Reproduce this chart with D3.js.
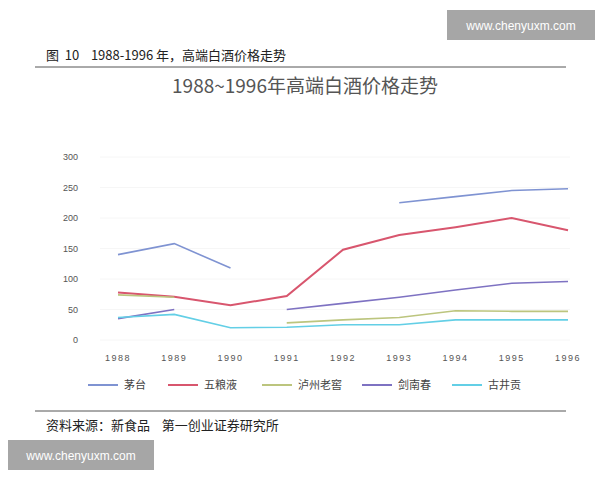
<!doctype html>
<html>
<head>
<meta charset="utf-8">
<style>
  body { margin: 0; background: #fff; }
  text { white-space: pre; }
</style>
</head>
<body>
<div id="here"></div>
<script src="https://d3js.org/d3.v7.min.js"></script>
<script>
var years = ["1988", "1989", "1990", "1991", "1992", "1993", "1994", "1995", "1996"];
var names = ["茅台", "五粮液", "泸州老窖", "剑南春", "古井贡"];
var maotai = [140, 158, 118, null, null, 225, 235, 245, 248];
var wuliangye = [78, 71, 57, 72, 148, 172, 185, 200, 180];
var luzhou = [74, 70, null, 28, 33, 37, 48, 47, 47];
var jiannan = [35, 50, null, 50, 60, 70, 82, 93, 96];
var gujing = [37, 42, 20, 21, 25, 25, 33, 33, 33];
var yTicks = [0, 50, 100, 150, 200, 250, 300];
var colors = ["#7f93d2", "#d8566e", "#bcc57e", "#7e72c2", "#63cfe6"];
var series = [maotai, wuliangye, luzhou, jiannan, gujing];

var w = 600, h = 480;
var svg = d3.select("#here").append("svg").attr("width", w).attr("height", h)
  .style("font-family", "'Noto Sans CJK SC', sans-serif");

// watermarks
svg.append("rect").attr("x", 447).attr("y", 10).attr("width", 148).attr("height", 30).attr("fill", "#a6a6a6");
svg.append("text").attr("x", 521).attr("y", 30).attr("text-anchor", "middle").attr("fill", "#fff")
  .attr("font-size", 12).style("font-family", "Arial, sans-serif").text("www.chenyuxm.com");
svg.append("rect").attr("x", 8).attr("y", 440).attr("width", 146).attr("height", 30).attr("fill", "#a6a6a6");
svg.append("text").attr("x", 81).attr("y", 460).attr("text-anchor", "middle").attr("fill", "#fff")
  .attr("font-size", 12).style("font-family", "Arial, sans-serif").text("www.chenyuxm.com");

// caption
svg.append("text").attr("x", 46).attr("y", 60).attr("font-size", 13).attr("fill", "#222")
  .text("图  10    1988-1996 年，高端白酒价格走势");
svg.append("line").attr("x1", 35).attr("x2", 566).attr("y1", 67).attr("y2", 67).attr("stroke", "#555");
svg.append("line").attr("x1", 35).attr("x2", 566).attr("y1", 411).attr("y2", 411).attr("stroke", "#555");
svg.append("text").attr("x", 46).attr("y", 430).attr("font-size", 13).attr("fill", "#222")
  .text("资料来源：新食品    第一创业证券研究所");

svg.append("text").attr("x", 305).attr("y", 93).attr("text-anchor", "middle").attr("font-size", 19)
  .attr("fill", "#555").text("1988~1996年高端白酒价格走势");

var x = d3.scalePoint().domain(years).range([118, 568]);
var y = d3.scaleLinear().domain([0, 300]).range([340, 157]);

svg.append("g").selectAll("line").data(yTicks).enter().append("line")
  .attr("x1", 100).attr("x2", 570).attr("y1", function(d) { return y(d); }).attr("y2", function(d) { return y(d); })
  .attr("stroke", "#f6f6f6");

svg.append("g").selectAll("text").data(yTicks).enter().append("text")
  .attr("x", 78).attr("y", function(d) { return y(d) + 3; }).attr("text-anchor", "end")
  .attr("font-size", 9).attr("fill", "#555").style("font-family", "Arial, sans-serif")
  .text(function(d) { return d; });

svg.append("g").selectAll("text").data(years).enter().append("text")
  .attr("x", function(d) { return x(d); }).attr("y", 361).attr("text-anchor", "middle")
  .attr("font-size", 9).attr("fill", "#555").attr("letter-spacing", 1.5).style("font-family", "Arial, sans-serif")
  .text(function(d) { return d; });

var line = d3.line()
  .defined(function(d) { return d != null; })
  .x(function(d, i) { return x(years[i]); })
  .y(function(d) { return y(d); });

series.forEach(function(s, k) {
  svg.append("path").attr("d", line(s)).attr("fill", "none")
    .attr("stroke", colors[k]).attr("stroke-width", k == 1 ? 2 : 1.6);
});

var lx = [88, 168, 262, 362, 452];
var leg = svg.append("g").selectAll("g").data(names).enter().append("g")
  .attr("transform", function(d, i) { return "translate(" + lx[i] + ",385)"; });
leg.append("line").attr("x1", 0).attr("x2", 30).attr("stroke", function(d, i) { return colors[i]; }).attr("stroke-width", 2);
leg.append("text").attr("x", 36).attr("y", 4).attr("font-size", 11).attr("fill", "#444")
  .text(function(d) { return d; });
</script>
</body>
</html>
